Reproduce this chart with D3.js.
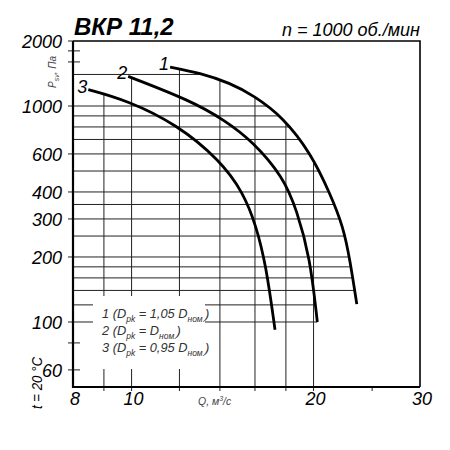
<!DOCTYPE html>
<html>
<head>
<meta charset="utf-8">
<script src="https://cdn.jsdelivr.net/npm/d3@7"></script>
<style>
  body { margin: 0; background: #fff; }
  text { font-family: "Liberation Sans", Arial, sans-serif; font-style: italic; }
</style>
</head>
<body>
<script>
// fan curves, Q in m3/s, P in Pa
const curve1Q = [11.58, 12.98, 14.55, 15.9, 17.82, 19.81, 21.3, 22.4, 22.98, 23.58];
const curve1P = [1515, 1421, 1278, 1121, 887, 602, 393, 276, 193, 121];
const curve2Q = [9.87, 12.49, 14.27, 15.9, 17.82, 18.76, 19.73, 20.29];
const curve2P = [1372, 1063, 859, 682, 469, 330, 200, 100];
const curve3Q = [8.48, 9.82, 11.88, 14.0, 15.29, 16.06, 16.69, 17.27];
const curve3P = [1191, 1063, 823, 561, 399, 281, 183, 92];
const curveNames = ["1", "2", "3"];

const qLabels = [8, 10, 20, 30];
const qMinor = [9, 12, 14, 16, 18, 25];
const qGrid = [9, 10, 12, 14, 16, 18, 20];
const pLabels = [2000, 1000, 600, 400, 300, 200, 100, 60];
const pMinor = [1800, 1600, 80];
const pGrid = [1400, 1000, 900, 800, 700, 600, 500, 400, 350, 300, 250, 200, 180, 160, 140, 120, 100];

const legendFactors = ["1,05 ", " ", "0,95 "];

const svg = d3.select("body").append("svg").attr("width", 450).attr("height", 450);

const x = d3.scaleLog().domain([8, 30]).range([73, 420]);
const y = d3.scaleLog().domain([50, 2000]).range([387, 41]);

const curves = [
  d3.zip(curve1Q, curve1P),
  d3.zip(curve2Q, curve2P),
  d3.zip(curve3Q, curve3P),
];

const line = d3.line()
  .x((d) => x(d[0]))
  .y((d) => y(d[1]))
  .curve(d3.curveBasis);

const gGrid = svg.append("g");
const gCurves = svg.append("g");

let paths = gCurves.selectAll("path")
  .data(curves)
  .join("path")
  .attr("d", line)
  .attr("fill", "none")
  .attr("stroke", "#000")
  .attr("stroke-width", 2.8);

// sample drawn curves so grid lines can stop at the outer one
let samples = [];
paths.each(function () {
  let len = this.getTotalLength();
  let pts = [];
  for (let i = 0; i <= 400; i++) {
    let p = this.getPointAtLength((len * i) / 400);
    pts.push([p.x, p.y]);
  }
  samples.push(pts);
});

const topAt = (px) => {
  let best = null;
  samples.forEach((pts) => {
    for (let i = 0; i < pts.length - 1; i++) {
      let a = pts[i], b = pts[i + 1];
      let lo = Math.min(a[0], b[0]) - 0.3, hi = Math.max(a[0], b[0]) + 0.3;
      if (px >= lo && px <= hi) {
        let t = b[0] === a[0] ? 0 : (px - a[0]) / (b[0] - a[0]);
        t = Math.max(0, Math.min(1, t));
        let yy = a[1] + t * (b[1] - a[1]);
        if (best === null || yy < best) best = yy;
      }
    }
  });
  return best;
};

const rightAt = (py) => {
  let best = null;
  samples.forEach((pts) => {
    for (let i = 0; i < pts.length - 1; i++) {
      let a = pts[i], b = pts[i + 1];
      let lo = Math.min(a[1], b[1]) - 0.6, hi = Math.max(a[1], b[1]) + 0.6;
      if (py >= lo && py <= hi) {
        let t = b[1] === a[1] ? 0 : (py - a[1]) / (b[1] - a[1]);
        t = Math.max(0, Math.min(1, t));
        let xx = a[0] + t * (b[0] - a[0]);
        if (best === null || xx > best) best = xx;
      }
    }
  });
  return best;
};

const [x0, x1] = x.range();
const [y0, y1] = y.range();

// horizontal grid
pGrid.forEach((p) => {
  let py = y(p);
  let end = rightAt(py);
  if (end === null) return;
  gGrid.append("line")
    .attr("x1", pLabels.includes(p) ? x0 - 5 : x0)
    .attr("x2", end)
    .attr("y1", py).attr("y2", py)
    .attr("stroke", "#222").attr("stroke-width", 1);
});

// vertical grid
qGrid.forEach((q) => {
  let px = x(q);
  let top = topAt(px);
  if (top === null) return;
  gGrid.append("line")
    .attr("x1", px).attr("x2", px)
    .attr("y1", top).attr("y2", y0 + 4)
    .attr("stroke", "#222").attr("stroke-width", 1);
});

// axis ticks
qMinor.filter((q) => !qGrid.includes(q)).forEach((q) => {
  gGrid.append("line")
    .attr("x1", x(q)).attr("x2", x(q))
    .attr("y1", y0).attr("y2", y0 + 4)
    .attr("stroke", "#222");
});
pMinor.concat([60]).forEach((p) => {
  gGrid.append("line")
    .attr("x1", x0 - 5).attr("x2", x0 + 7)
    .attr("y1", y(p)).attr("y2", y(p))
    .attr("stroke", "#222");
});
gGrid.append("line")
  .attr("x1", x0 - 5).attr("x2", x0)
  .attr("y1", y(2000)).attr("y2", y(2000))
  .attr("stroke", "#222");

// legend box covers grid
svg.append("rect")
  .attr("x", 93).attr("y", 296)
  .attr("width", 112).attr("height", 73)
  .attr("fill", "#fff");

// frame
svg.append("path")
  .attr("d", `M${x0},${y1}H${x1}V${y0}`)
  .attr("fill", "none")
  .attr("stroke", "#000")
  .attr("stroke-width", 1.6);
svg.append("path")
  .attr("d", `M${x0},${y1}V${y0}H${x1}`)
  .attr("fill", "none")
  .attr("stroke", "#000")
  .attr("stroke-width", 2.2);

// tick labels
svg.selectAll(".ylab")
  .data(pLabels)
  .join("text")
  .attr("x", 62)
  .attr("y", (d) => y(d) + 7)
  .attr("text-anchor", "end")
  .attr("font-size", 18)
  .text((d) => d);

svg.selectAll(".xlab")
  .data(qLabels)
  .join("text")
  .attr("x", (d) => x(d) + 2)
  .attr("y", 405)
  .attr("text-anchor", "middle")
  .attr("font-size", 18)
  .text((d) => d);

// curve numbers at start of each curve
svg.selectAll(".cname")
  .data(curves)
  .join("text")
  .attr("x", (d) => x(d[0][0]) - 1)
  .attr("y", (d) => y(d[0][1]) + 3)
  .attr("text-anchor", "end")
  .attr("font-size", 18)
  .text((d, i) => curveNames[i]);

// titles
svg.append("text")
  .attr("x", 74).attr("y", 35)
  .attr("font-size", 24)
  .attr("font-weight", "bold")
  .text("ВКР 11,2");

svg.append("text")
  .attr("x", 420).attr("y", 35.5)
  .attr("text-anchor", "end")
  .attr("font-size", 18)
  .text("n = 1000 об./мин");

// axis names
let pName = svg.append("text")
  .attr("transform", "translate(56,88) rotate(-90)")
  .attr("font-size", 10)
  .attr("fill", "#444");
pName.append("tspan").text("P");
pName.append("tspan").attr("dy", 3).attr("font-size", 7).text("sv");
pName.append("tspan").attr("dy", -3).text(", Па");

svg.append("text")
  .attr("transform", "translate(42,383) rotate(-90)")
  .attr("text-anchor", "middle")
  .attr("font-size", 14)
  .attr("textLength", 52)
  .attr("lengthAdjust", "spacingAndGlyphs")
  .text("t = 20 °C");

let qName = svg.append("text")
  .attr("x", 198).attr("y", 405)
  .attr("font-size", 10.5)
  .attr("fill", "#444");
qName.append("tspan").text("Q, м");
qName.append("tspan").attr("dy", -4).attr("font-size", 7).text("3");
qName.append("tspan").attr("dy", 4).text("/с");

// legend
curveNames.forEach((n, i) => {
  let t = svg.append("text")
    .attr("x", 102).attr("y", 318 + i * 17)
    .attr("font-size", 12.8)
    .attr("fill", "#333");
  t.append("tspan").text(n + " (D");
  t.append("tspan").attr("dy", 4).attr("font-size", 8.5).text("pk");
  t.append("tspan").attr("dy", -4).text(" = " + legendFactors[i] + "D");
  t.append("tspan").attr("dy", 4).attr("font-size", 8.5).text("ном.");
  t.append("tspan").attr("dy", -4).text(")");
});
</script>
</body>
</html>
